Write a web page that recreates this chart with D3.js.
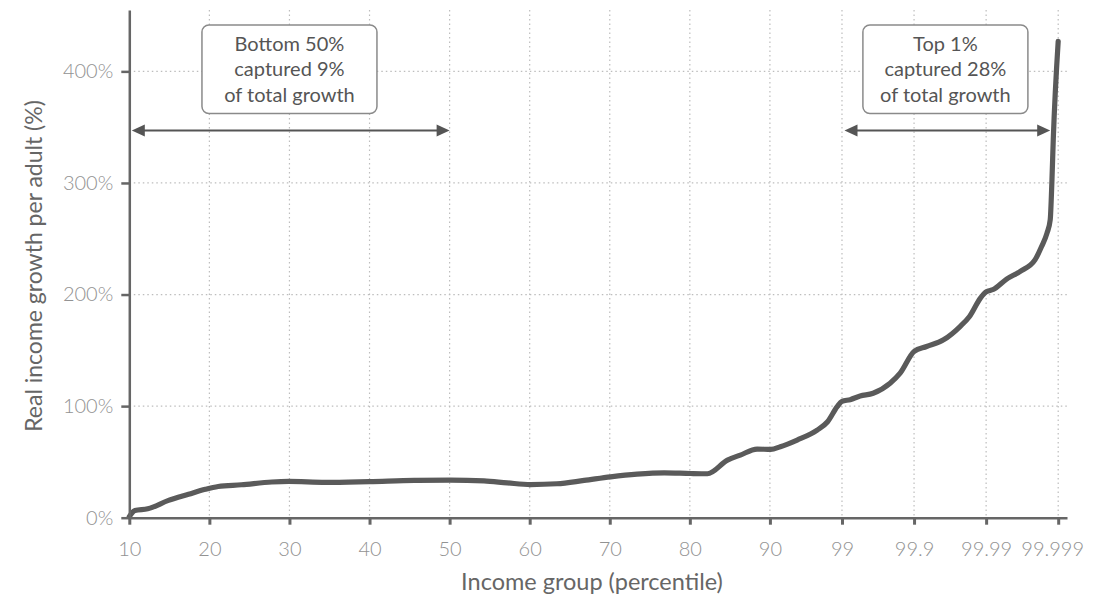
<!DOCTYPE html>
<html><head><meta charset="utf-8">
<script src="https://cdn.jsdelivr.net/npm/d3@7"></script>
<style>body{margin:0;background:#fff} text{font-family:Lato,"Open Sans",sans-serif}</style>
</head><body><svg id="c" width="1107" height="599"></svg>
<script>
// ---- data ----
const percentiles = [10, 10.7, 12.3, 14.9, 17.4, 19.5, 21.1, 24, 27.8, 29.9, 34.5, 40, 45.6, 50.1, 54.3, 57.2, 60.1, 63.4, 66.8, 70.1, 73.4, 76.8, 80.1, 82.2, 84.7, 86.3, 88.4, 90.1, 91.3, 93.4, 95.9, 97.2, 98.4, 99, 99.23, 99.44, 99.63, 99.785, 99.844, 99.9, 99.933, 99.961, 99.977, 99.983, 99.988, 99.99, 99.992, 99.9948, 99.9966, 99.9979, 99.9983, 99.99857, 99.99871, 99.99878, 99.99883, 99.999];
const growth = [1, 6.5, 8, 15.5, 21, 25.5, 28, 29.5, 32, 32.5, 31.7, 32.4, 33.4, 33.6, 33, 31.2, 29.7, 30.4, 33.4, 36.6, 39, 40.2, 39.6, 39.4, 51.6, 56.1, 61.5, 61.2, 63.6, 69.6, 78.5, 86, 99.5, 104.3, 105.8, 109, 111.5, 120.5, 129.5, 148.9, 153.4, 159.4, 171.3, 180.3, 196.8, 202.3, 204.5, 213.8, 220.6, 231, 243, 255, 267, 303, 339, 427];
const xTickValues = [10, 20, 30, 40, 50, 60, 70, 80, 90, 99, 99.9, 99.99, 99.999];
const xTickLabels = ["10", "20", "30", "40", "50", "60", "70", "80", "90", "99", "99.9", "99.99", "99.999"];
const yTickValues = [0, 100, 200, 300, 400];
const annotationLines = [["Bottom 50%", "captured 9%", "of total growth"], ["Top 1%", "captured 28%", "of total growth"]];
const annotationSpans = [[10, 50], [99, 99.999]];
const annotationCenters = [30, 99.95];

// ---- scales ----
const rank = p => p <= 99 ? p : 99 + 9 * (-Math.log10(100 - p));
const x = d3.scaleLinear().domain([10, 127.1]).range([129.3, 1067]);
const y = d3.scaleLinear().domain([0, 455]).range([517.7, 10]);
const X = p => x(rank(p));

const svg = d3.select("#c");
const gridColor = "#bdbdbd";

// gridlines
const grid = svg.append("g");
xTickValues.slice(1).forEach(p => {
  grid.append("line").attr("x1", X(p)).attr("x2", X(p)).attr("y1", y(455)).attr("y2", y(0))
    .attr("stroke", gridColor).attr("stroke-width", 1.2).attr("stroke-dasharray", "1.5,3");
});
yTickValues.slice(1).forEach(v => {
  grid.append("line").attr("x1", x(10)).attr("x2", x(127.1)).attr("y1", y(v)).attr("y2", y(v))
    .attr("stroke", gridColor).attr("stroke-width", 1.2).attr("stroke-dasharray", "1.5,3");
});

// annotations
const boxW = [175, 165];
annotationLines.forEach((lines, i) => {
  const cx = i === 0 ? X(annotationCenters[0]) : 945.4;
  const g = svg.append("g");
  g.append("rect").attr("x", cx - boxW[i] / 2).attr("y", 25).attr("width", boxW[i]).attr("height", 88.5)
    .attr("rx", 7).attr("fill", "#fff").attr("stroke", "#8a8a8a").attr("stroke-width", 1.5);
  lines.forEach((t, j) => {
    g.append("text").attr("x", cx).attr("y", 50.5 + j * 25.7).attr("text-anchor", "middle")
      .attr("font-size", 20).attr("fill", "#555").text(t);
  });
  // double arrow
  const ay = y(347);
  const x0 = X(annotationSpans[i][0]) + 2.5;
  const x1 = i === 0 ? X(annotationSpans[i][1]) : X(annotationSpans[i][1]) - 8;
  g.append("line").attr("x1", x0 + 8).attr("x2", x1 - 8).attr("y1", ay).attr("y2", ay)
    .attr("stroke", "#555").attr("stroke-width", 2.2);
  g.append("path").attr("d", `M${x0},${ay} L${x0 + 13},${ay - 6} L${x0 + 13},${ay + 6} Z`).attr("fill", "#555");
  g.append("path").attr("d", `M${x1},${ay} L${x1 - 13},${ay - 6} L${x1 - 13},${ay + 6} Z`).attr("fill", "#555");
});

// line
const data = percentiles.map((p, i) => ({ p, v: growth[i] }));
svg.append("path").datum(data)
  .attr("d", d3.line().x(d => X(d.p)).y(d => y(d.v)).curve(d3.curveMonotoneX))
  .attr("fill", "none").attr("stroke", "#5a5a5a").attr("stroke-width", 5.2)
  .attr("stroke-linejoin", "round").attr("stroke-linecap", "round");

// axes
const xAxis = d3.axisBottom(x).tickValues(xTickValues.map(rank))
  .tickFormat((d, i) => xTickLabels[i]).tickSize(7).tickSizeOuter(0);
const gx = svg.append("g").attr("transform", `translate(0,${y(0)})`).call(xAxis);
gx.select(".domain").attr("stroke", "#666").attr("stroke-width", 2.5);
gx.selectAll(".tick line").attr("stroke", "#666").attr("stroke-width", 3);
gx.selectAll(".tick text").attr("font-family", "Lato").attr("font-weight", 300)
  .attr("font-size", 20).attr("fill", "#929292").attr("dy", "1.42em")
  .attr("dx", (d, i) => i === xTickLabels.length - 1 ? -6 : 0);

const yAxis = d3.axisLeft(y).tickValues(yTickValues).tickFormat(d => d + "%").tickSize(8).tickSizeOuter(0);
const gy = svg.append("g").attr("transform", `translate(${x(10)},0)`).call(yAxis);
gy.select(".domain").attr("stroke", "#666").attr("stroke-width", 2.5);
gy.selectAll(".tick line").attr("stroke", "#666").attr("stroke-width", 2.5);
gy.selectAll(".tick text").attr("font-family", "Lato").attr("font-weight", 300)
  .attr("font-size", 20).attr("fill", "#929292").attr("x", -16);

// titles
svg.append("text").attr("x", 592).attr("y", 590).attr("text-anchor", "middle")
  .attr("font-size", 23.5).attr("fill", "#666").text("Income group (percentile)");
svg.append("text").attr("transform", "translate(42,266) rotate(-90)").attr("text-anchor", "middle")
  .attr("font-size", 23).attr("fill", "#666").text("Real income growth per adult (%)");
</script></body></html>
